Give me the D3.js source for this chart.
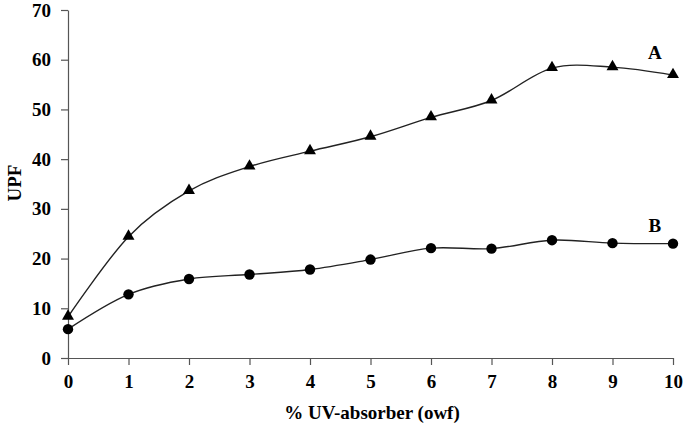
<!DOCTYPE html>
<html>
<head>
<meta charset="utf-8">
<script src="https://cdn.jsdelivr.net/npm/d3@7"></script>
<style>
	body { margin: 0; background: #fff; }
	svg text { font-family: "Liberation Serif", "Times New Roman", serif; font-weight: bold; fill: #000; }
	.axis path, .axis line { stroke: #555; stroke-width: 1.2; }
</style>
</head>
<body>
<svg id="chart" width="685" height="430"></svg>
<script>
'use strict'

// % UV-absorber (owf)
const conc = [0, 1, 2, 3, 4, 5, 6, 7, 8, 9, 10]
// UPF values
const upfA = [8.3, 24.4, 33.6, 38.5, 41.6, 44.5, 48.4, 51.8, 58.3, 58.5, 56.9]
const upfB = [5.8, 12.8, 15.9, 16.8, 17.8, 19.8, 22.1, 22.0, 23.7, 23.1, 23.0]
const yTicks = [0, 10, 20, 30, 40, 50, 60, 70]

const margins = {top: 10, right: 12, bottom: 72, left: 68}
const width = 685, height = 430
const chartHeight = height - margins.top - margins.bottom

const x = d3.scaleLinear().domain([0, 10]).range([0, 605])
const y = d3.scaleLinear().domain([0, 70]).range([chartHeight, 0])

const svg = d3.select('#chart')
const g = svg.append('g').attr('transform', `translate(${margins.left},${margins.top})`)

// axes
const xAxis = g.append('g').classed('axis', true)
	.attr('transform', `translate(0,${chartHeight})`)
	.call(d3.axisBottom(x).tickValues(conc).tickSize(7).tickSizeOuter(0).tickPadding(10))
xAxis.selectAll('text').style('font-size', '19px')

const yAxis = g.append('g').classed('axis', true)
	.call(d3.axisLeft(y).tickValues(yTicks).tickSize(7).tickSizeOuter(0).tickPadding(10))
yAxis.selectAll('text').style('font-size', '19px')

// axis titles
svg.append('text')
	.attr('x', 372).attr('y', 419)
	.attr('text-anchor', 'middle')
	.style('font-size', '19px')
	.text('% UV-absorber (owf)')
svg.append('text')
	.attr('transform', 'translate(21,183) rotate(-90)')
	.attr('text-anchor', 'middle')
	.style('font-size', '19px')
	.text('UPF')

// smoothed lines (like excel smooth line)
const line = d3.line()
	.x((d, i) => x(conc[i]))
	.y(d => y(d))
	.curve(d3.curveCardinal.tension(0))

g.append('path').datum(upfA)
	.attr('d', line).attr('fill', 'none').attr('stroke', '#222').attr('stroke-width', 1.4)
g.append('path').datum(upfB)
	.attr('d', line).attr('fill', 'none').attr('stroke', '#222').attr('stroke-width', 1.4)

// markers
const tri = d3.symbol().type(d3.symbolTriangle).size(62)
g.selectAll('.ptA').data(upfA).enter().append('path')
	.attr('transform', (d, i) => `translate(${x(conc[i])},${y(d) - 0.5})`)
	.attr('d', tri).attr('fill', '#000')
g.selectAll('.ptB').data(upfB).enter().append('circle')
	.attr('cx', (d, i) => x(conc[i]))
	.attr('cy', d => y(d))
	.attr('r', 5.2).attr('fill', '#000')

// series labels
g.append('text').attr('x', x(9.7)).attr('y', y(60.1)).attr('text-anchor', 'middle')
	.style('font-size', '19px').text('A')
g.append('text').attr('x', x(9.7)).attr('y', y(25.3)).attr('text-anchor', 'middle')
	.style('font-size', '19px').text('B')
</script>
</body>
</html>
